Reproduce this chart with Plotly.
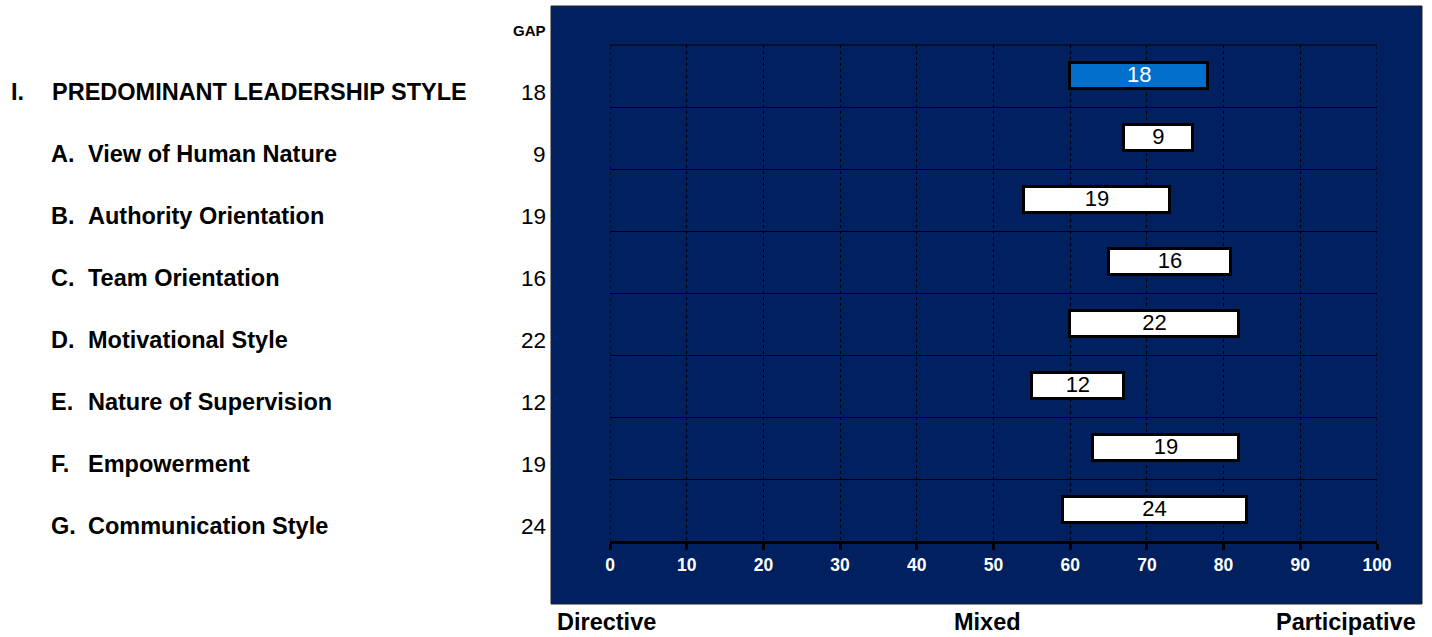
import plotly.graph_objects as go

# ---------------- data ----------------
prefixes = ["I.", "A.", "B.", "C.", "D.", "E.", "F.", "G."]
categories = [
    "PREDOMINANT LEADERSHIP STYLE",
    "View of Human Nature",
    "Authority Orientation",
    "Team Orientation",
    "Motivational Style",
    "Nature of Supervision",
    "Empowerment",
    "Communication Style",
]
starts = [60, 67, 54, 65, 60, 55, 63, 59]
ends = [78, 76, 73, 81, 82, 67, 82, 83]
gaps = [18, 9, 19, 16, 22, 12, 19, 24]
x_ticks = [0, 10, 20, 30, 40, 50, 60, 70, 80, 90, 100]
scale_labels = ["Directive", "Mixed", "Participative"]

# ---------------- layout constants ----------------
W, H = 1432, 637
L, R, T, B = 610, 1377, 45, 541
FONT = "Arial, Liberation Sans, sans-serif"
NAVY = "#002060"

def px(x):
    return (x - L) / (R - L)

def py(y):
    return 1 - (y - T) / (B - T)

rows = list(range(len(categories)))
bar_colors = ["#0070CC"] + ["#FFFFFF"] * (len(categories) - 1)
text_colors = ["#FFFFFF"] + ["#000000"] * (len(categories) - 1)

fig = go.Figure()

fig.add_trace(go.Bar(
    y=rows,
    x=[e - s for s, e in zip(starts, ends)],
    base=starts,
    orientation="h",
    width=0.42,
    marker=dict(color=bar_colors, line=dict(color="#000000", width=3)),
    hoverinfo="skip",
    showlegend=False,
))

fig.add_trace(go.Scatter(
    y=rows,
    x=[(s + e) / 2 for s, e in zip(starts, ends)],
    mode="text",
    text=[str(g) for g in gaps],
    textposition="middle center",
    textfont=dict(family=FONT, size=22, color=text_colors),
    hoverinfo="skip",
    showlegend=False,
    cliponaxis=False,
))

LABEL_SIZE = 23.5
annotations = []
for i, (pre, cat, g) in enumerate(zip(prefixes, categories, gaps)):
    if i == 0:
        ax_pre, ax_cat = 9, 50
    else:
        ax_pre, ax_cat = 49, 86
    annotations.append(dict(
        x=px(ax_pre), xref="paper", y=i, yref="y", yshift=-16,
        text=f"<b>{pre}</b>", showarrow=False, xanchor="left", yanchor="middle",
        font=dict(family=FONT, size=LABEL_SIZE, color="#000000"),
    ))
    annotations.append(dict(
        x=px(ax_cat), xref="paper", y=i, yref="y", yshift=-16,
        text=f"<b>{cat}</b>", showarrow=False, xanchor="left", yanchor="middle",
        font=dict(family=FONT, size=LABEL_SIZE, color="#000000"),
    ))
    annotations.append(dict(
        x=px(548), xref="paper", y=i, yref="y", yshift=-16,
        text=str(g), showarrow=False, xanchor="right", yanchor="middle",
        font=dict(family=FONT, size=22.5, color="#000000"),
    ))

annotations.append(dict(
    x=px(548), xref="paper", y=py(31), yref="paper",
    text="<b>GAP</b>", showarrow=False, xanchor="right", yanchor="middle",
    font=dict(family=FONT, size=15, color="#000000"),
))

for lab, xx, anchor in zip(scale_labels, [555, 987, 1418], ["left", "center", "right"]):
    annotations.append(dict(
        x=px(xx), xref="paper", y=py(622), yref="paper",
        text=f"<b>{lab}</b>", showarrow=False, xanchor=anchor, yanchor="middle",
        font=dict(family=FONT, size=23.5, color="#000000"),
    ))

shapes = [dict(
    type="rect", xref="paper", yref="paper", layer="below",
    x0=px(551), x1=px(1422), y0=py(604), y1=py(6),
    fillcolor=NAVY, line=dict(color="#222222", width=1),
)]
# edge grid lines that plotly omits at the range limits
shapes.append(dict(type="line", xref="x", yref="paper", x0=x_ticks[0], x1=x_ticks[0],
                   y0=0, y1=1, line=dict(color="#000000", width=1, dash="dot"), layer="below"))
shapes.append(dict(type="line", xref="x", yref="paper", x0=x_ticks[-1], x1=x_ticks[-1],
                   y0=0, y1=1, line=dict(color="#000000", width=1, dash="dot"), layer="below"))
shapes.append(dict(type="line", xref="paper", yref="paper", x0=0, x1=1,
                   y0=1, y1=1, line=dict(color="#000000", width=1), layer="below"))

fig.update_layout(
    width=W, height=H,
    margin=dict(l=L, r=W - R, t=T, b=H - B, pad=0),
    paper_bgcolor="#FFFFFF",
    plot_bgcolor="rgba(0,0,0,0)",
    bargap=0,
    shapes=shapes,
    annotations=annotations,
    font=dict(family=FONT),
    xaxis=dict(
        range=[0, 100],
        tickvals=x_ticks,
        ticktext=[str(t) for t in x_ticks],
        tickfont=dict(family=FONT, size=17.5, color="#FFFFFF", weight="bold"),
        showgrid=True, gridcolor="#000000", gridwidth=1, griddash="dot",
        showline=True, linecolor="#000000", linewidth=3,
        ticks="outside", ticklen=6, tickwidth=3, tickcolor="#000000",
        zeroline=False,
        fixedrange=True,
    ),
    yaxis=dict(
        range=[len(categories) - 0.5, -0.5],
        tickvals=[i - 0.5 for i in range(len(categories) + 1)],
        showticklabels=False,
        showgrid=True, gridcolor="#000000", gridwidth=1,
        zeroline=False, showline=False, ticks="",
        fixedrange=True,
    ),
)

fig.write_html("out.html")
